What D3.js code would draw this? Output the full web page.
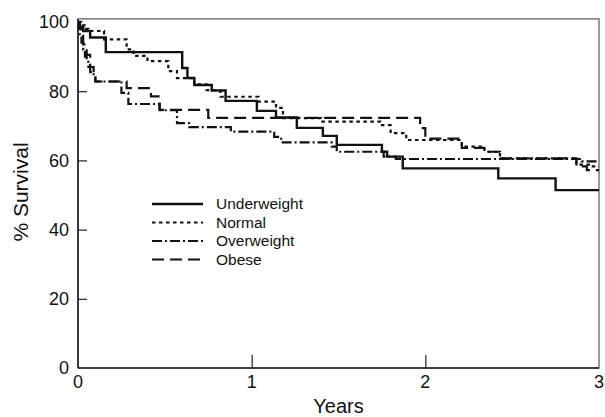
<!DOCTYPE html>
<html>
<head>
<meta charset="utf-8">
<script src="https://cdn.jsdelivr.net/npm/d3@7"></script>
<style>
  body { margin: 0; background: #fff; }
  text { font-family: "Liberation Sans", Arial, sans-serif; fill: #111; }
</style>
</head>
<body>
<svg id="chart" width="605" height="417"></svg>
<script>
// Kaplan-Meier steps: [years, % survival]
const underweight = [
  [0, 100], [0.01, 98.5], [0.03, 97.4], [0.07, 95.5], [0.16, 91.3],
  [0.6, 86.7], [0.63, 83.8], [0.67, 81.8], [0.77, 80.2], [0.85, 77.2],
  [1.03, 74.3], [1.14, 72.4], [1.26, 69.4], [1.41, 67.1], [1.49, 64.5],
  [1.75, 62.5], [1.78, 61.1], [1.87, 57.7], [2.42, 54.8], [2.75, 51.4], [3, 51.4]
];
const normal = [
  [0, 100], [0.02, 99], [0.04, 98], [0.06, 97.4], [0.15, 95], [0.28, 92.1],
  [0.32, 90.2], [0.4, 88.7], [0.52, 85.8], [0.57, 83.8], [0.67, 82],
  [0.74, 80.3], [0.82, 78.4], [1.04, 77], [1.14, 75.2], [1.18, 72.2],
  [1.4, 71.2], [1.74, 70.2], [1.8, 67.9], [1.89, 65.9], [2.21, 64],
  [2.34, 62.5], [2.43, 60.6], [2.87, 58.8], [2.95, 58.3], [3, 58.3]
];
const overweight = [
  [0, 100], [0.005, 98], [0.01, 96], [0.02, 94], [0.03, 92], [0.04, 90],
  [0.05, 88.5], [0.06, 87], [0.07, 85.5], [0.09, 84], [0.1, 82.8],
  [0.25, 79.5], [0.29, 76.3], [0.47, 74.5], [0.57, 70.8], [0.64, 69.6],
  [0.88, 68.3], [1.13, 66.8], [1.17, 65.2], [1.46, 64], [1.49, 62.5],
  [1.76, 61.1], [1.83, 60.4], [2.9, 59.7], [3, 59.7]
];
const obese = [
  [0, 100], [0.01, 98], [0.02, 96], [0.03, 93.5], [0.05, 90.5], [0.07, 87],
  [0.09, 84.5], [0.1, 82.8], [0.28, 80.9], [0.42, 78.5], [0.47, 74.6],
  [0.75, 72.3], [1.97, 69.3], [2.0, 66.3], [2.21, 63.6], [2.34, 62.5],
  [2.43, 60.6], [2.87, 58.3], [2.93, 57.2], [3, 57.2]
];

const groupNames = ['Underweight', 'Normal', 'Overweight', 'Obese'];
const groupData = [underweight, normal, overweight, obese];
const xTicks = [0, 1, 2, 3];
const yTicks = [0, 20, 40, 60, 80, 100];

const dashes = ['none', '3.5,3.5', '10,3,2,3', '12,6'];
const widths = [2.4, 2.2, 2.2, 2.2];

const svg = d3.select('#chart');
const x = d3.scaleLinear().domain([0, 3]).range([78, 599]);
const y = d3.scaleLinear().domain([0, 100]).range([368, 22]);

// frame (top and right sides are lighter)
svg.append('rect')
  .attr('x', x(0)).attr('y', y(100.9))
  .attr('width', x(3) - x(0)).attr('height', y(0) - y(100.9))
  .attr('fill', 'none').attr('stroke', '#555').attr('stroke-width', 1.2);

// left and bottom axes with inward ticks
const yAxis = d3.axisRight(y).tickValues(yTicks.slice(1, -1)).tickSize(9).tickFormat('');
svg.append('g').attr('transform', `translate(${x(0)},0)`).call(yAxis)
  .call(g => g.select('.domain').remove())
  .selectAll('line').attr('stroke', '#222').attr('stroke-width', 1.2);
svg.append('line')
  .attr('x1', x(0)).attr('x2', x(0)).attr('y1', y(100.9)).attr('y2', y(0))
  .attr('stroke', '#222').attr('stroke-width', 1.6);

const xAxis = d3.axisTop(x).tickValues(xTicks.slice(1, -1)).tickSize(13).tickFormat('');
svg.append('g').attr('transform', `translate(0,${y(0)})`).call(xAxis)
  .call(g => g.select('.domain').remove())
  .selectAll('line').attr('stroke', '#222').attr('stroke-width', 1.2);
svg.append('line')
  .attr('x1', x(0)).attr('x2', x(3)).attr('y1', y(0)).attr('y2', y(0))
  .attr('stroke', '#222').attr('stroke-width', 1.6);

// tick labels
svg.selectAll('.ylab').data(yTicks).enter().append('text')
  .attr('class', 'ylab')
  .attr('x', x(0) - 9).attr('y', d => y(d))
  .attr('dy', '0.35em').attr('text-anchor', 'end')
  .attr('font-size', 18).text(d => d);
svg.selectAll('.xlab').data(xTicks).enter().append('text')
  .attr('class', 'xlab')
  .attr('x', d => x(d)).attr('y', y(0) + 20)
  .attr('text-anchor', 'middle')
  .attr('font-size', 18).text(d => d);

// axis titles
svg.append('text')
  .attr('x', (x(0) + x(3)) / 2).attr('y', 413)
  .attr('text-anchor', 'middle').attr('font-size', 20).text('Years');
svg.append('text')
  .attr('transform', `translate(28,${y(50) - 3}) rotate(-90)`)
  .attr('text-anchor', 'middle').attr('font-size', 21).text('% Survival');

// survival curves
const line = d3.line()
  .x(d => x(d[0]))
  .y(d => y(d[1]))
  .curve(d3.curveStepAfter);

svg.append('g').selectAll('path').data(groupData).enter().append('path')
  .attr('d', line)
  .attr('fill', 'none')
  .attr('stroke', '#111')
  .attr('stroke-width', (d, i) => widths[i])
  .attr('stroke-dasharray', (d, i) => dashes[i]);

// legend
const legend = svg.append('g').attr('transform', 'translate(152,204)');
const rows = legend.selectAll('g').data(groupNames).enter().append('g')
  .attr('transform', (d, i) => `translate(0,${i * 18.5})`);
rows.append('line')
  .attr('x1', 0).attr('x2', 51).attr('y1', 0).attr('y2', 0)
  .attr('stroke', '#111')
  .attr('stroke-width', (d, i) => widths[i])
  .attr('stroke-dasharray', (d, i) => dashes[i]);
rows.append('text')
  .attr('x', 64).attr('dy', '0.35em')
  .attr('font-size', 15.5).text(d => d);
</script>
</body>
</html>
